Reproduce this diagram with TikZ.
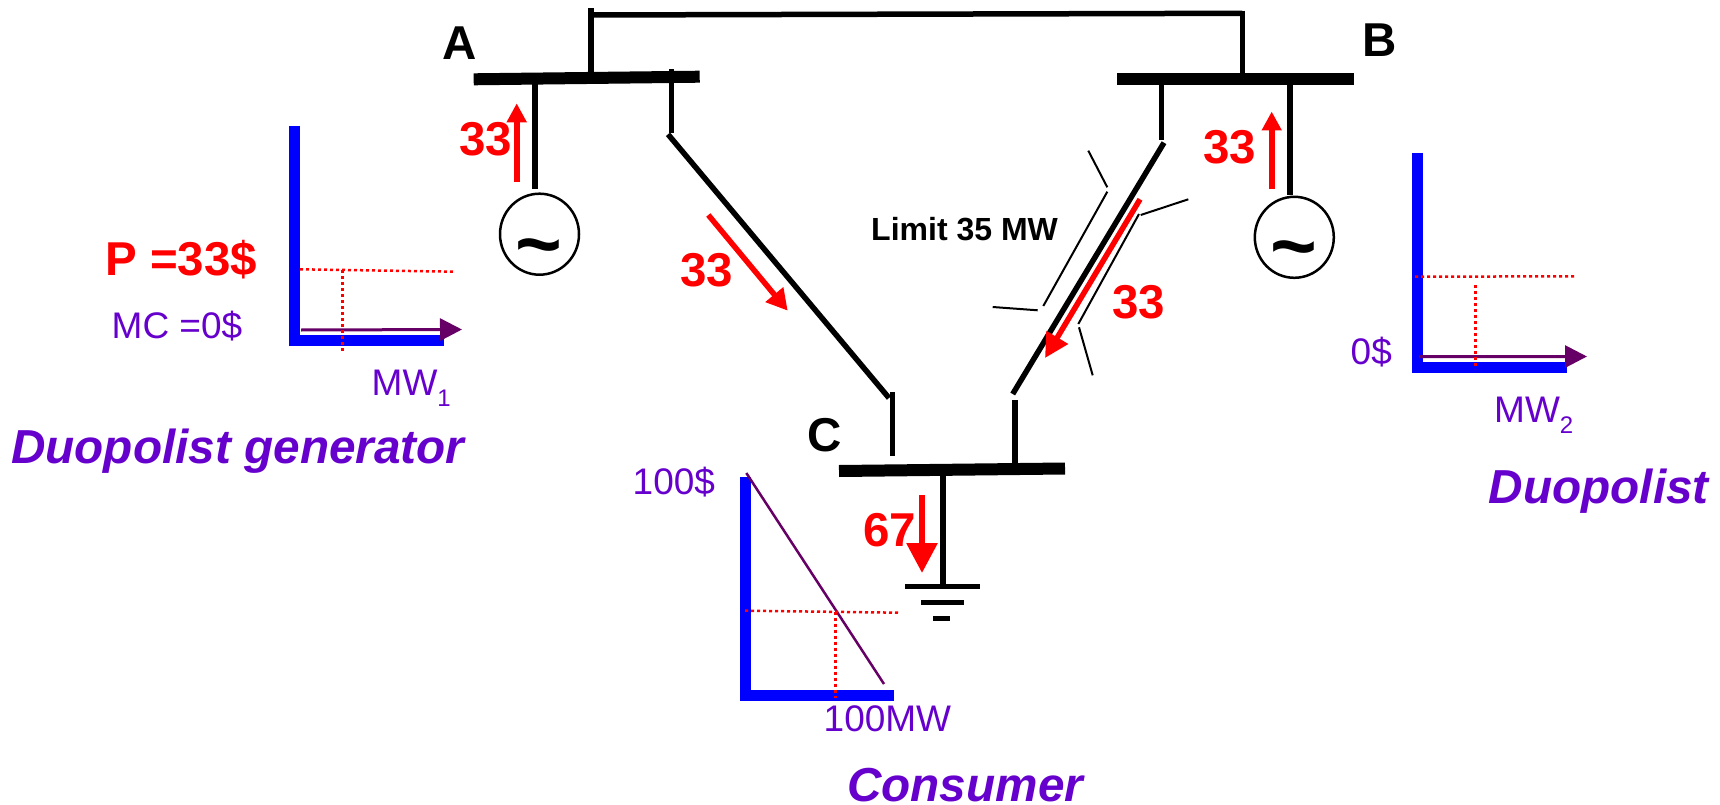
\documentclass[tikz,border=0pt]{standalone}
\usepackage{fontspec}
\setmainfont{Liberation Sans}
\usetikzlibrary{arrows.meta,shapes.geometric}
\definecolor{offer}{HTML}{6600CC}
\definecolor{curve}{HTML}{660066}
\newcommand{\subidx}[1]{\raisebox{-11pt}{\fontsize{24}{24}\selectfont #1}}
\tikzset{
  busbar/.style={line width=12pt},
  feeder/.style={line width=5.5pt},
  limitline/.style={line width=2pt},
  axisline/.style={line width=11pt,blue,miter limit=10},
  guide/.style={red,line width=2.5pt,dash pattern=on 3pt off 3pt},
  supply/.style={curve,line width=3pt,-{Triangle[length=22pt,width=22pt]}},
  flow/.style={red,line width=6pt,-{Triangle[length=19pt,width=19pt]}},
  gensym/.style={draw,ellipse,line width=2.5pt,inner sep=0pt,minimum width=79pt,minimum height=81pt},
  tildesym/.style={anchor=base,inner sep=0pt,font=\bfseries\fontsize{80}{84}\selectfont},
  busname/.style={anchor=base west,inner sep=0pt,font=\bfseries\fontsize{47.5}{50}\selectfont},
  flowlabel/.style={busname,red},
  plainlabel/.style={anchor=base west,inner sep=0pt,offer,font=\fontsize{37}{40}\selectfont},
  ownerlabel/.style={anchor=base west,inner sep=0pt,offer,font=\bfseries\itshape\fontsize{47.7}{52}\selectfont}
}
\begin{document}
\begin{tikzpicture}[x=1pt,y=-1pt]
  \useasboundingbox (0,0) rectangle (1720,805);
  % buses
  \coordinate (Al) at (473.7,79.3);
  \coordinate (Ar) at (699.7,76.7);
  \coordinate (Bl) at (1117.3,79.3);
  \coordinate (Br) at (1354,79.3);
  \coordinate (Cl) at (839,471);
  \coordinate (Cr) at (1065,468.5);
  \draw[busbar] (Al) -- (Ar);
  \draw[busbar] (Bl) -- (Br);
  \draw[busbar] (Cl) -- (Cr);
  \node[busname] (nameA) at (442,60) {A};
  \node[busname] (nameB) at (1362,56.7) {B};
  \node[busname] (nameC) at (807,451) {C};
  % line A-B
  \coordinate (A1) at (591,72);
  \coordinate (A2) at (591,8.3);
  \coordinate (L1) at (591,15);
  \coordinate (L2) at (1242.3,13.3);
  \coordinate (B1) at (1242.3,10.7);
  \coordinate (B2) at (1242.3,74);
  \draw[feeder] (A1) -- (A2);
  \draw[feeder] (L1) -- (L2);
  \draw[feeder] (B1) -- (B2);
  % line A-C
  \coordinate (A3) at (671.3,69.3);
  \coordinate (A4) at (671.3,133.3);
  \coordinate (A5) at (668,134.3);
  \coordinate (C1) at (889,398);
  \coordinate (C2) at (892.3,392);
  \coordinate (C3) at (892.3,455.7);
  \draw[feeder] (A3) -- (A4);
  \draw[feeder] (A5) -- (C1);
  \draw[feeder] (C2) -- (C3);
  % line B-C
  \coordinate (B3) at (1161.7,74);
  \coordinate (B4) at (1161.7,140);
  \coordinate (B5) at (1164,142.7);
  \coordinate (C4) at (1012.7,394);
  \coordinate (C5) at (1015,400);
  \coordinate (C6) at (1015,465);
  \draw[feeder] (B3) -- (B4);
  \draw[feeder] (B5) -- (C4);
  \draw[feeder] (C5) -- (C6);
  % limit marks
  \coordinate (m1) at (1088.3,150.7);
  \coordinate (m2) at (1107.3,187.3);
  \coordinate (m3) at (1107.3,191.7);
  \coordinate (m4) at (1043.3,306);
  \coordinate (m5) at (1037.7,310.3);
  \coordinate (m6) at (992.7,307);
  \coordinate (m7) at (1188.3,199.3);
  \coordinate (m8) at (1140.7,215);
  \coordinate (m9) at (1139,214);
  \coordinate (m10) at (1078.3,324);
  \coordinate (m11) at (1079,327.3);
  \coordinate (m12) at (1092.7,375.3);
  \draw[limitline] (m1) -- (m2);
  \draw[limitline] (m3) -- (m4);
  \draw[limitline] (m5) -- (m6);
  \draw[limitline] (m7) -- (m8);
  \draw[limitline] (m9) -- (m10);
  \draw[limitline] (m11) -- (m12);
  \node[anchor=base west,inner sep=0pt,font=\bfseries\fontsize{32}{34}\selectfont] (limit) at (871,240) {Limit 35 MW};
  % generators
  \node[gensym] (genA) at (539.5,234.2) {};
  \node[gensym] (genB) at (1294.3,237.3) {};
  \node[tildesym] (tildeA) at (539.3,271) {\textasciitilde};
  \node[tildesym] (tildeB) at (1294,273) {\textasciitilde};
  \coordinate (A6) at (535,83);
  \coordinate (A7) at (535,189.3);
  \coordinate (B6) at (1289.7,83);
  \coordinate (B7) at (1289.7,195);
  \draw[feeder,line width=6pt] (A6) -- (A7);
  \draw[feeder,line width=6pt] (B6) -- (B7);
  % load
  \coordinate (C7) at (943,472);
  \coordinate (C8) at (943,586);
  \coordinate (g1) at (905,586.3);
  \coordinate (g2) at (979.7,586.3);
  \coordinate (g3) at (921,602.3);
  \coordinate (g4) at (963.7,602.3);
  \coordinate (g5) at (933,618.3);
  \coordinate (g6) at (949.7,618.3);
  \draw[feeder] (C7) -- (C8);
  \draw[feeder] (g1) -- (g2);
  \draw[feeder] (g3) -- (g4);
  \draw[feeder] (g5) -- (g6);
  % flows
  \coordinate (f1) at (516.7,181.7);
  \coordinate (f2) at (516.7,103.3);
  \coordinate (f3) at (1271.7,189.3);
  \coordinate (f4) at (1271.7,111.5);
  \coordinate (f5) at (708.3,215);
  \coordinate (f6) at (787.7,310.7);
  \coordinate (f7) at (1140,199.3);
  \coordinate (f8) at (1045,358);
  \coordinate (f9) at (922,495);
  \coordinate (f10) at (922,573);
  \draw[flow] (f1) -- (f2);
  \draw[flow] (f3) -- (f4);
  \draw[flow,line width=5.5pt,-{Triangle[length=21pt,width=22pt]}] (f5) -- (f6);
  \draw[flow,line width=5.5pt,-{Triangle[length=24pt,width=24pt]}] (f7) -- (f8);
  \draw[flow,-{Triangle[length=30pt,width=30pt]}] (f9) -- (f10);
  \node[flowlabel] (flowA) at (459,156) {33};
  \node[flowlabel] (flowB) at (1203,163.3) {33};
  \node[flowlabel] (flowAC) at (680,286.7) {33};
  \node[flowlabel] (flowBC) at (1112,318.3) {33};
  \node[flowlabel] (flowC) at (863,546.7) {67};
  % generator A chart
  \coordinate (u1) at (294.5,126);
  \coordinate (u2) at (294.5,340.7);
  \coordinate (u3) at (443.7,340.7);
  \coordinate (u4) at (300,269.3);
  \coordinate (u5) at (455,271.7);
  \coordinate (u6) at (342.3,270);
  \coordinate (u7) at (342.3,353.3);
  \coordinate (u8) at (301,330);
  \coordinate (u9) at (462,329.5);
  \draw[axisline] (u1) -- (u2) -- (u3);
  \draw[supply] (u8) -- (u9);
  \draw[guide] (u4) -- (u5);
  \draw[guide] (u6) -- (u7);
  \node[flowlabel] (price) at (105,275.7) {P =33\$};
  \node[plainlabel] (mcA) at (111.5,338) {MC =0\$};
  \node[plainlabel] (mwA) at (371.5,395.7) {MW\subidx{1}};
  \node[ownerlabel] (ownerA) at (11,463.3) {Duopolist generator};
  % generator B chart
  \coordinate (v1) at (1417.3,152.7);
  \coordinate (v2) at (1417.3,367.3);
  \coordinate (v3) at (1566.7,367.3);
  \coordinate (v4) at (1415,276.7);
  \coordinate (v5) at (1575,276.3);
  \coordinate (v6) at (1475.7,285);
  \coordinate (v7) at (1475.7,369);
  \coordinate (v8) at (1419,356.7);
  \coordinate (v9) at (1587,356.5);
  \draw[axisline] (v1) -- (v2) -- (v3);
  \draw[supply] (v8) -- (v9);
  \draw[guide] (v4) -- (v5);
  \draw[guide] (v6) -- (v7);
  \node[plainlabel] (mcB) at (1350.5,364) {0\$};
  \node[plainlabel] (mwB) at (1494,422.7) {MW\subidx{2}};
  \node[ownerlabel] (ownerB) at (1488.5,503) {Duopolist};
  % consumer chart
  \coordinate (w1) at (745.3,477);
  \coordinate (w2) at (745.3,695.3);
  \coordinate (w3) at (894.3,695.3);
  \coordinate (w4) at (746.3,473);
  \coordinate (w5) at (884,684);
  \coordinate (w6) at (745,610.7);
  \coordinate (w7) at (900,612.7);
  \coordinate (w8) at (835.7,611.7);
  \coordinate (w9) at (835.7,698);
  \draw[axisline] (w1) -- (w2) -- (w3);
  \draw[curve,line width=2.5pt] (w4) -- (w5);
  \draw[guide] (w6) -- (w7);
  \draw[guide] (w8) -- (w9);
  \node[plainlabel] (top) at (632.5,494) {100\$};
  \node[plainlabel] (right) at (823.5,731.7) {100MW};
  \node[ownerlabel] (owner) at (847,801) {Consumer};
\end{tikzpicture}
\end{document}
